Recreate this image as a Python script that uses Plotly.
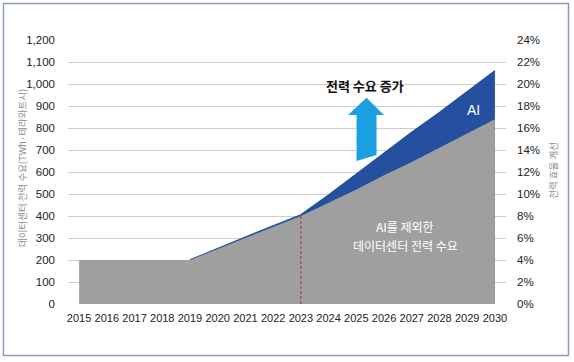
import plotly.graph_objects as go

years = list(range(2015, 2031))
# Data center demand excluding AI (TWh)
demand_ex_ai = [200, 200, 200, 200, 200, 250, 300, 350, 400, 460, 520, 585, 645, 710, 775, 840]
# Total data center demand including AI (TWh); AI band starts around 2019
demand_total = [None, None, None, None, 200, 253, 304, 355, 405, 495, 590, 685, 780, 870, 965, 1060]
left_ticks = list(range(0, 1201, 100))
right_ticks = list(range(0, 25, 2))

GRAY = "#9f9f9f"
BLUE = "#24509f"
ARROW = "#1a9fe0"
NUM_FONT = "Liberation Sans Narrow, Arial Narrow, Liberation Sans, Arial, sans-serif"
KR_FONT = "Noto Sans CJK KR, Noto Sans, sans-serif"
TICK_FONT = dict(family=NUM_FONT, size=11.5, color="#222222")

fig = go.Figure()
fig.add_trace(go.Scatter(x=years, y=demand_total, mode="lines", fill="tozeroy",
                         fillcolor=BLUE, line=dict(color=BLUE, width=1.5),
                         connectgaps=False, hoverinfo="skip", showlegend=False))
fig.add_trace(go.Scatter(x=years, y=demand_ex_ai, mode="lines", fill="tozeroy",
                         fillcolor=GRAY, line=dict(color=GRAY, width=0),
                         hoverinfo="skip", showlegend=False))
fig.add_trace(go.Scatter(x=[years[0]], y=[0], yaxis="y2", mode="markers",
                         marker=dict(opacity=0), hoverinfo="skip", showlegend=False))

i2023 = years.index(2023)
shapes = [
    dict(type="line", xref="x", yref="y", x0=2023, x1=2023, y0=0, y1=demand_ex_ai[i2023],
         line=dict(color="#c0282e", width=1, dash="3px,2px"), layer="above"),
    dict(type="path", xref="x", yref="y",
         path="M 2025.37 938 L 2026.0 859 L 2025.73 859 L 2025.73 677 L 2025.01 650 "
              "L 2025.01 859 L 2024.70 859 Z",
         fillcolor=ARROW, line=dict(width=0), layer="above"),
    dict(type="rect", xref="paper", yref="paper", x0=-0.1473, x1=1.1427, y0=-0.195, y1=1.138,
         line=dict(color="#8d9bb8", width=1.5), fillcolor="rgba(0,0,0,0)", layer="below"),
]

annotations = [
    dict(x=2025.3, y=995, xref="x", yref="y", text="<b>전력 수요 증가</b>", showarrow=False,
         font=dict(family=KR_FONT, size=13, color="#111111")),
    dict(x=2029.21, y=882, xref="x", yref="y", text="AI", showarrow=False,
         font=dict(family="Liberation Sans, Arial, sans-serif", size=14, color="white")),
    dict(x=2026.76, y=352, xref="x", yref="y", text="AI를 제외한",
         showarrow=False, font=dict(family=KR_FONT, size=12, color="white")),
    dict(x=2026.76, y=268, xref="x", yref="y", text="데이터센터 전력 수요",
         showarrow=False, font=dict(family=KR_FONT, size=12, color="white")),
    dict(x=-0.105, y=0.515, xref="paper", yref="paper", xanchor="center", yanchor="middle",
         text="데이터센터 전력 수요(TWh·테라와트시)", textangle=-90, showarrow=False,
         font=dict(family=KR_FONT, size=9.5, color="#8c8c8c")),
    dict(x=1.107, y=0.508, xref="paper", yref="paper", xanchor="center", yanchor="middle",
         text="전력 효율 개선", textangle=-90, showarrow=False,
         font=dict(family=KR_FONT, size=9.5, color="#8c8c8c")),
]

fig.update_layout(
    width=574, height=362, autosize=False,
    margin=dict(l=68, r=68, t=40, b=58, pad=0),
    paper_bgcolor="white", plot_bgcolor="white",
    shapes=shapes, annotations=annotations,
    xaxis=dict(range=[2014.6, 2030.4], tickvals=years, ticktext=[str(y) for y in years],
               tickangle=0, automargin=False,
               showgrid=False, zeroline=False, showline=False, ticks="",
               ticklabelstandoff=6, tickfont=dict(family=NUM_FONT, size=11, color="#222222")),
    yaxis=dict(range=[0, 1200], tickvals=left_ticks, ticktext=[f"{v:,}" for v in left_ticks],
               automargin=False,
               showgrid=True, gridcolor="#cccccc", gridwidth=1, zeroline=False,
               showline=False, ticks="", ticklabelstandoff=12, tickfont=TICK_FONT),
    yaxis2=dict(range=[0, 24], overlaying="y", side="right", tickvals=right_ticks,
                automargin=False,
                ticktext=[f"{v}%" for v in right_ticks], showgrid=False, zeroline=False,
                showline=False, ticks="", ticklabelstandoff=10, tickfont=TICK_FONT),
)

fig.write_html("out.html", config={"displayModeBar": False},
               post_script="document.body.style.margin='0';")
